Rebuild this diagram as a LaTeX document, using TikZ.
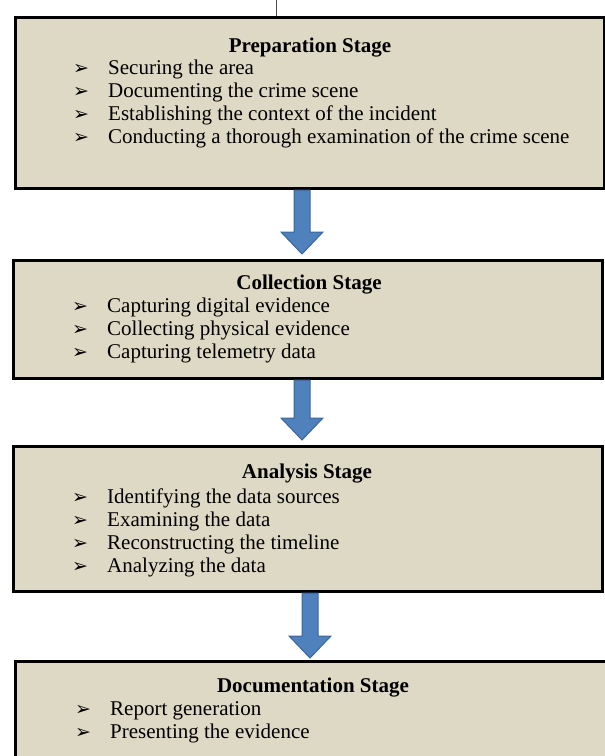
\documentclass[tikz,border=0pt]{standalone}
\usepackage{fontspec}
\setmainfont{Liberation Serif}
\newfontfamily\dejavu{DejaVu Sans}
\usepackage{xcolor}
\usetikzlibrary{calc, positioning}

\definecolor{stagefill}{HTML}{DDD9C4}
\definecolor{arrowfill}{HTML}{4F81BD}
\definecolor{arrowline}{HTML}{3C659B}
\newcommand{\bul}{\makebox[35pt][l]{\dejavu\fontsize{19}{19}\selectfont ➢}}

\begin{document}
\begin{tikzpicture}[x=1pt, y=-1pt,
    stage/.style={rectangle, draw=black, line width=3pt, fill=stagefill, anchor=north west, inner sep=0pt},
    stagetitle/.style={font=\fontsize{21}{23}\selectfont\bfseries, anchor=base, inner sep=0pt},
    items/.style={font=\fontsize{21}{23}\selectfont, align=left, anchor=base west, inner sep=0pt},
    bigarrow/.style={fill=arrowfill, draw=arrowline, line width=1pt, line join=miter,
      to path={($(\tikztostart)+(-8,0)$) -- ($(\tikztotarget)+(-8,-22)$) -- ($(\tikztotarget)+(-21,-22)$)
        -- (\tikztotarget) -- ($(\tikztotarget)+(21,-22)$) -- ($(\tikztotarget)+(8,-22)$)
        -- ($(\tikztostart)+(8,0)$) -- cycle}}]
    \useasboundingbox (0,0) rectangle (605,756);

    % Stage boxes
    \node[stage, minimum width=589, minimum height=171] (prep) at (14,16) {};
    \node[stage, minimum width=589, minimum height=118] (coll) at (12,259) {};
    \node[stage, minimum width=589, minimum height=145] (anal) at (12,445) {};
    \node[stage, minimum width=606, minimum height=110] (docu) at (14,660) {};

    % Small tick above the first box
    \coordinate (tick) at (276,0);
    \draw[gray!60!black, thin] (tick) -- (tick |- prep.north);

    % Preparation (list is placed by its last line)
    \node[stagetitle] (prep_title) at (310,52) {Preparation Stage};
    \node[items] (prep_list) at (73,143) {\bul Securing the area\\
      \bul Documenting the crime scene\\
      \bul Establishing the context of the incident\\
      \bul Conducting a thorough examination of the crime scene};

    % Collection
    \node[stagetitle] (coll_title) at (309,289) {Collection Stage};
    \node[items] (coll_list) at (72,358) {\bul Capturing digital evidence\\
      \bul Collecting physical evidence\\
      \bul Capturing telemetry data};

    % Analysis
    \node[stagetitle] (anal_title) at (307,478) {Analysis Stage};
    \node[items] (anal_list) at (72,572) {\bul Identifying the data sources\\
      \bul Examining the data\\
      \bul Reconstructing the timeline\\
      \bul Analyzing the data};

    % Documentation
    \node[stagetitle] (docu_title) at (313,692) {Documentation Stage};
    \node[items] (docu_list) at (75,738) {\bul Report generation\\
      \bul Presenting the evidence};

    % Flow arrows
    \coordinate (a1) at (302,0);
    \coordinate (a2) at (302,0);
    \coordinate (a3) at (310,0);
    \draw[bigarrow] (prep.south -| a1) to ($(coll.north -| a1)+(0,-5)$);
    \draw[bigarrow] (coll.south -| a2) to ($(anal.north -| a2)+(0,-5)$);
    \draw[bigarrow] (anal.south -| a3) to ($(docu.north -| a3)+(0,-2)$);
\end{tikzpicture}
\end{document}
